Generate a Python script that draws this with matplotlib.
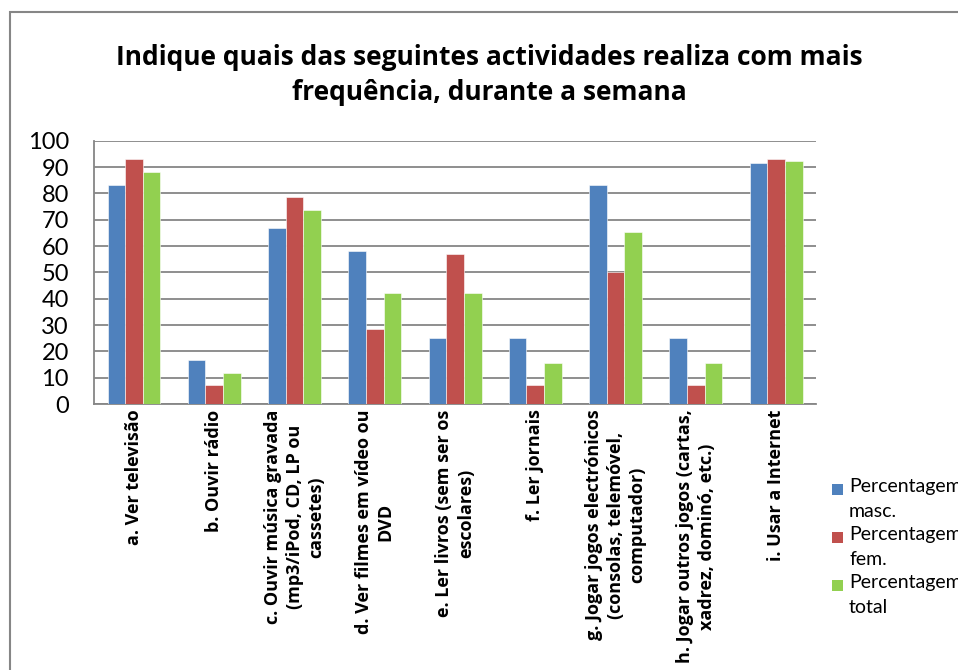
import numpy as np
import matplotlib
matplotlib.use('Agg')
import matplotlib.pyplot as plt
from matplotlib.patches import Rectangle

plt.rcParams['font.family'] = ['Lato', 'DejaVu Sans']

# Dados
categorias = [
    'a. Ver televisão',
    'b. Ouvir rádio',
    'c. Ouvir música gravada\n(mp3/iPod, CD, LP ou\ncassetes)',
    'd. Ver filmes em vídeo ou\nDVD',
    'e. Ler livros (sem ser os\nescolares)',
    'f. Ler jornais',
    'g. Jogar jogos electrónicos\n(consolas, telemóvel,\ncomputador)',
    'h. Jogar outros jogos (cartas,\nxadrez, dominó, etc.)',
    'i. Usar a Internet',
]
masc = [83.3, 16.7, 66.7, 58.3, 25.0, 25.0, 83.3, 25.0, 91.7]
fem = [92.9, 7.1, 78.6, 28.6, 57.1, 7.1, 50.0, 7.1, 92.9]
total = [88.2, 11.8, 73.5, 42.2, 42.2, 15.4, 65.4, 15.4, 92.3]
series_nomes = ['Percentagem\nmasc.', 'Percentagem\nfem.', 'Percentagem\ntotal']
cores = ['#4F81BD', '#C0504D', '#92D050']

negrito = ['Open Sans', 'DejaVu Sans']
W, H = 958, 670

fig = plt.figure(figsize=(9.58, 6.70), dpi=100)
ax = fig.add_axes([0.098, 0.397, 0.754, 0.393])

x = np.arange(len(categorias))
w = 0.22
for i, (vals, nome, cor) in enumerate(zip([masc, fem, total], series_nomes, cores)):
    ax.bar(x + (i - 1) * w, vals, w, color=cor, label=nome, zorder=3,
           edgecolor='white', linewidth=0.4)

ax.set_xlim(-0.5, len(categorias) - 0.5)
ax.set_ylim(0, 100)
ax.set_yticks(range(0, 101, 10))
ax.tick_params(axis='y', length=0, labelsize=17, pad=18)
ax.set_xticks(x)
ax.set_xticklabels(categorias, rotation=90, fontsize=13, fontweight='bold',
                   family=negrito, ha='center', va='top',
                   multialignment='center', linespacing=1.25)
ax.tick_params(axis='x', length=0, pad=4)
ax.grid(axis='y', color='#868686', linewidth=1.3, zorder=0)
for s in ['top', 'right']:
    ax.spines[s].set_visible(False)
for s in ['left', 'bottom']:
    ax.spines[s].set_color('#868686')
    ax.spines[s].set_linewidth(1.3)

fig.text(0.511, 0.888, 'Indique quais das seguintes actividades realiza com mais\n'
         'frequência, durante a semana', ha='center', va='center',
         fontsize=19, fontweight='bold', family=negrito, linespacing=1.35)

# legenda: quadrado alinhado com a primeira linha do texto
for i, (nome, cor) in enumerate(zip(series_nomes, cores)):
    yc = 489 + i * 48
    fig.patches.append(Rectangle((832 / W, 1 - (yc + 5.5) / H), 11 / W, 11 / H,
                                 transform=fig.transFigure, facecolor=cor,
                                 edgecolor='none'))
    fig.text(849 / W, 1 - (yc - 11) / H, nome, ha='left', va='top',
             fontsize=14, linespacing=1.55)

# moldura exterior do gráfico
fig.patches.append(Rectangle((10 / W, -0.1), 1.2, 1 - 12 / H + 0.1,
                             transform=fig.transFigure, fill=False,
                             edgecolor='#868686', linewidth=1.5))

plt.savefig('out.png', dpi=100)
